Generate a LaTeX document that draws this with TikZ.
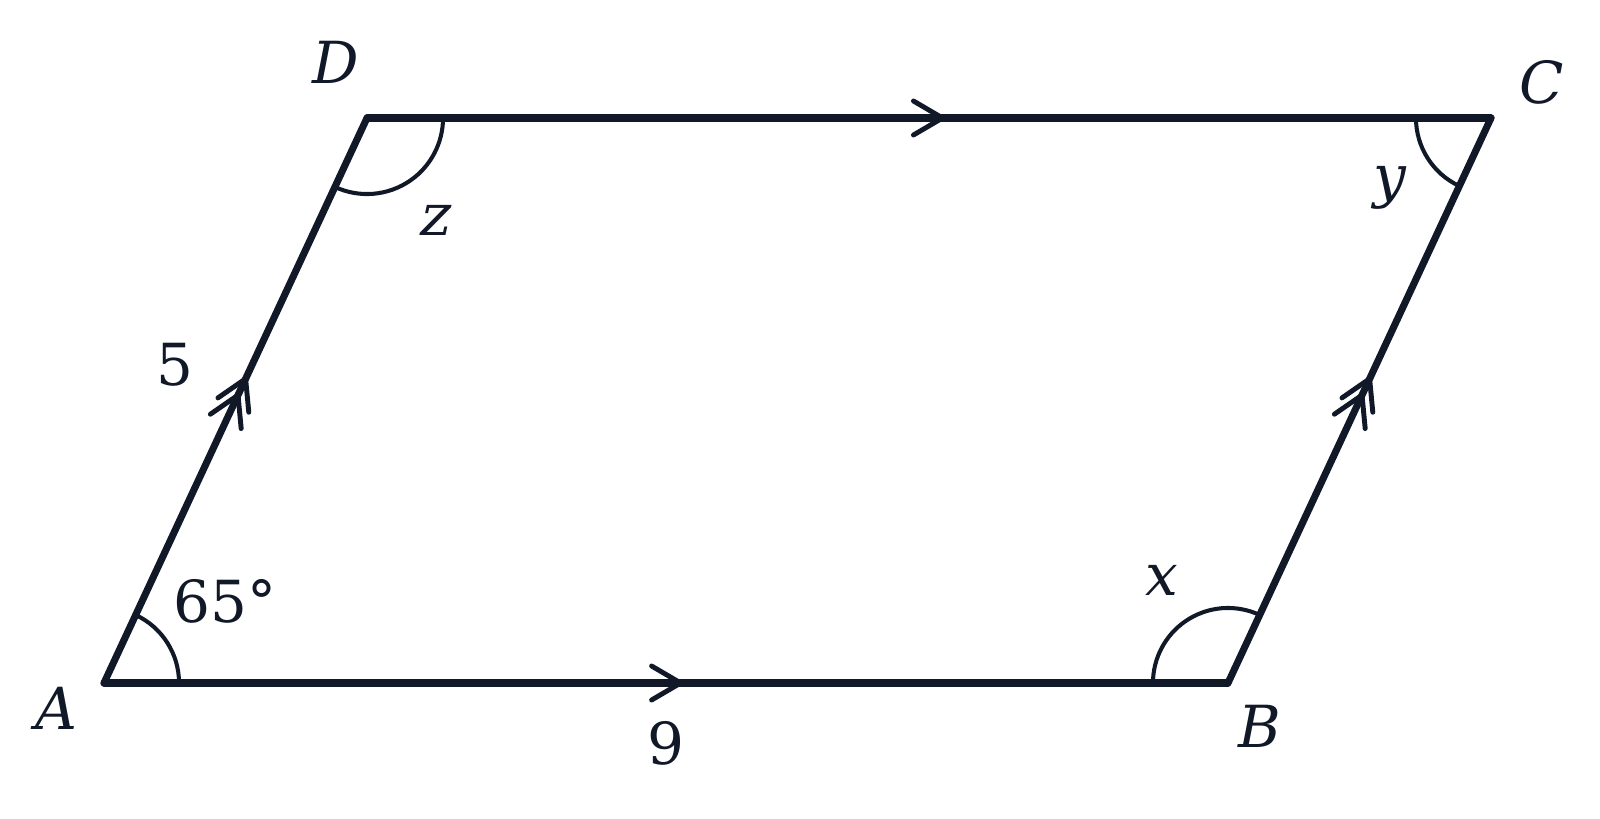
\documentclass[tikz,border=0pt]{standalone}
\usepackage{fontspec}
\setmainfont{DejaVu Serif}
\newfontfamily\slantserif[FakeSlant=0.22]{DejaVu Serif}
\usetikzlibrary{decorations.markings}
\definecolor{ink}{HTML}{111827}
\begin{document}
\begin{tikzpicture}[x=0.01cm,y=-0.01cm,
  side/.style={draw=ink,line width=2pt,line join=round,line cap=round},
  anglearc/.style={draw=ink,line width=1.15pt},
  lbl/.style={text=ink,inner sep=0pt,font=\fontsize{16.5}{19}\selectfont},
  chevline/.style={overlay,ink,line width=1.4pt,line cap=round,line join=round},
  onechev/.style={postaction={decorate},decoration={markings,mark=at position #1 with {
    \draw[chevline] (-0.29cm,0.17cm) -- (0,0) -- (-0.29cm,-0.17cm);}}},
  twochev/.style={postaction={decorate},decoration={markings,mark=at position #1 with {
    \draw[chevline] (-0.20cm,0.17cm) -- (0.09cm,0) -- (-0.20cm,-0.17cm);
    \draw[chevline] (-0.38cm,0.17cm) -- (-0.09cm,0) -- (-0.38cm,-0.17cm);}}}]
\useasboundingbox (0,0) rectangle (1600,818);
\coordinate (A) at (104,683);
\coordinate (B) at (1228,683);
\coordinate (C) at (1491,118);
\coordinate (D) at (367,118);
% sides
\path[side,onechev=0.513] (A) -- (B);
\path[side,twochev=0.524] (B) -- (C);
\path[side,onechev=0.512] (D) -- (C);
\path[side,twochev=0.524] (A) -- (D);
% angle arcs
\draw[anglearc] ([shift={(0:0.75cm)}]A) arc[start angle=0,end angle=65,radius=0.75cm];
\draw[anglearc] ([shift={(65:0.75cm)}]B) arc[start angle=65,end angle=180,radius=0.75cm];
\draw[anglearc] ([shift={(180:0.75cm)}]C) arc[start angle=180,end angle=245,radius=0.75cm];
\draw[anglearc] ([shift={(245:0.76cm)}]D) arc[start angle=245,end angle=360,radius=0.76cm];
% labels
\node[lbl] (lA) at (56,708) {\itshape A};
\node[lbl] (lB) at (1260,726) {\itshape B};
\node[lbl] (lC) at (1542,82) {\itshape C};
\node[lbl] (lD) at (336,62) {\itshape D};
\node[lbl] (l5) at (175,365) {5};
\node[lbl] (l9) at (666,743) {9};
\node[lbl] (l65) at (225,601) {65°};
\node[lbl] (lx) at (1162,580) {\itshape x};
\node[lbl] (ly) at (1390,188) {\itshape y};
\node[lbl] (lz) at (433,220) {\slantserif z};
\end{tikzpicture}
\end{document}
